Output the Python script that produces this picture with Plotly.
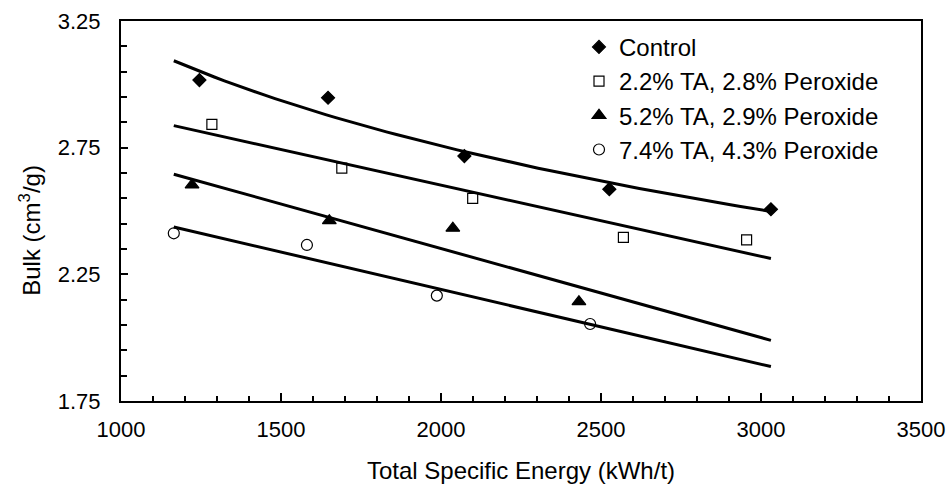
import numpy as np
import plotly.graph_objects as go

# ---- data ----
series_names = [
    "Control",
    "2.2% TA, 2.8% Peroxide",
    "5.2% TA, 2.9% Peroxide",
    "7.4% TA, 4.3% Peroxide",
]
control_x = [1245, 1647, 2073, 2526, 3031]
control_y = [3.017, 2.947, 2.717, 2.586, 2.507]
ta22_x = [1284, 1690, 2099, 2570, 2955]
ta22_y = [2.842, 2.669, 2.550, 2.396, 2.386]
ta52_x = [1222, 1651, 2037, 2431]
ta52_y = [2.603, 2.462, 2.432, 2.142]
ta74_x = [1165, 1581, 1987, 2466]
ta74_y = [2.412, 2.366, 2.166, 2.054]
# trend-line type used for each series in the reference
fit_types = ["log", "linear", "linear", "linear"]

x_ticks = [1000, 1500, 2000, 2500, 3000, 3500]
y_ticks = [1.75, 2.25, 2.75, 3.25]

xs = [control_x, ta22_x, ta52_x, ta74_x]
ys = [control_y, ta22_y, ta52_y, ta74_y]
symbols = ["diamond", "square-open", "triangle-up", "circle-open"]
sizes = [10, 10, 12, 11]

FONT = "Liberation Sans, Arial, sans-serif"

fig = go.Figure()

# trend lines fitted from the data, drawn over the common x range
all_x = np.concatenate([np.array(v, dtype=float) for v in xs])
x_fit = np.linspace(all_x.min(), all_x.max(), 60)
for x, y, kind in zip(xs, ys, fit_types):
    xa = np.array(x, dtype=float)
    ya = np.array(y, dtype=float)
    if kind == "log":
        b, a = np.polyfit(np.log(xa), ya, 1)
        y_fit = a + b * np.log(x_fit)
    else:
        b, a = np.polyfit(xa, ya, 1)
        y_fit = a + b * x_fit
    fig.add_trace(go.Scatter(
        x=x_fit, y=y_fit, mode="lines",
        line=dict(color="black", width=3), showlegend=False, hoverinfo="skip"))

for name, x, y, sym, sz in zip(series_names, xs, ys, symbols, sizes):
    fig.add_trace(go.Scatter(
        x=x, y=y, mode="markers", name=name,
        marker=dict(symbol=sym, size=sz, color="black",
                    line=dict(color="black", width=1.2))))

fig.update_layout(
    width=950, height=493,
    margin=dict(l=121, r=29, t=21, b=92),
    paper_bgcolor="white", plot_bgcolor="white",
    font=dict(family=FONT, size=22, color="black"),
    showlegend=True,
    legend=dict(x=0.5725, y=0.99, xanchor="left", yanchor="top",
                bgcolor="rgba(0,0,0,0)", borderwidth=0,
                font=dict(family=FONT, size=24, color="black"),
                itemsizing="trace", tracegroupgap=0),
    annotations=[dict(
        text="Bulk (cm<sup>3</sup>/g)", textangle=-90,
        xref="paper", yref="paper", x=-0.114, y=0.45,
        xanchor="center", yanchor="middle", showarrow=False,
        font=dict(family=FONT, size=24, color="black"))],
)

fig.update_xaxes(
    range=[1000, 3500], tickvals=x_ticks, ticktext=[str(v) for v in x_ticks],
    showgrid=False, zeroline=False, automargin=False,
    showline=True, linecolor="black", linewidth=2, mirror=True,
    ticks="inside", ticklen=8, tickwidth=1.5, tickcolor="black",
    minor=dict(dtick=100, tick0=1000, ticks="inside", ticklen=5, tickwidth=1.5,
               tickcolor="black", showgrid=False),
    tickfont=dict(family=FONT, size=22, color="black"),
    ticklabelstandoff=8,
    title=dict(text="Total Specific Energy (kWh/t)",
               font=dict(family=FONT, size=24, color="black"), standoff=21),
)
fig.update_yaxes(
    range=[1.75, 3.25], tickvals=y_ticks, ticktext=[f"{v:.2f}" for v in y_ticks],
    showgrid=False, zeroline=False, automargin=False,
    showline=True, linecolor="black", linewidth=2, mirror=True,
    ticks="inside", ticklen=7, tickwidth=1.5, tickcolor="black",
    minor=dict(dtick=0.1, tick0=1.75, ticks="inside", ticklen=6, tickwidth=1.5,
               tickcolor="black", showgrid=False),
    tickfont=dict(family=FONT, size=22, color="black"),
    ticklabelstandoff=14,
)

fig.write_html("out.html", config={"displayModeBar": False},
               post_script="document.body.style.margin='0';")
